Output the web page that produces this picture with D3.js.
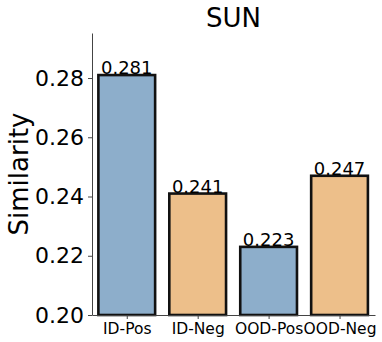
<!DOCTYPE html>
<html>
<head>
<meta charset="utf-8">
<script src="https://cdn.jsdelivr.net/npm/d3@7"></script>
<style>
  body { margin: 0; background: #fff; }
  text { font-family: "DejaVu Sans", sans-serif; fill: #000; }
</style>
</head>
<body>
<div id="chart"></div>
<script>
// Data
var categories = ["ID-Pos", "ID-Neg", "OOD-Pos", "OOD-Neg"];
var values = [0.281, 0.241, 0.223, 0.247];
var colors = ["#8daecb", "#edbf8a", "#8daecb", "#edbf8a"];
var yTicks = [0.20, 0.22, 0.24, 0.26, 0.28];

var W = 382, H = 342;
var margin = {left: 92, right: 7, top: 33, bottom: 27};

var svg = d3.select("#chart")
	.append("svg")
		.attr("width", W)
		.attr("height", H);

// Scales
var x = d3.scaleLinear()
	.domain([-0.49, 3.5])
	.range([margin.left, W - margin.right]);
var y = d3.scaleLinear()
	.domain([0.20, 0.2952])
	.range([H - margin.bottom, margin.top]);

var barW = 0.8 * (x(1) - x(0));

// Bars
svg.selectAll(".bar")
	.data(values)
	.enter()
	.append("rect")
	.attr("class", "bar")
	.attr("x", function(d, i){ return x(i) - barW / 2; })
	.attr("y", function(d){ return y(d); })
	.attr("width", barW)
	.attr("height", function(d){ return y(0.20) - y(d); })
	.attr("fill", function(d, i){ return colors[i]; })
	.attr("stroke", "#111")
	.attr("stroke-width", 2.6);

// Value labels
svg.selectAll(".val")
	.data(values)
	.enter()
	.append("text")
	.attr("class", "val")
	.attr("x", function(d, i){ return x(i); })
	.attr("y", function(d){ return y(d) - 1; })
	.attr("text-anchor", "middle")
	.style("font-size", "18px")
	.text(function(d){ return d.toFixed(3); });

// Axes
var yAxis = d3.axisLeft(y)
	.tickValues(yTicks)
	.tickFormat(d3.format(".2f"))
	.tickSizeInner(4)
	.tickSizeOuter(0)
	.tickPadding(4);

var gY = svg.append("g")
	.attr("transform", "translate(" + margin.left + ",0)")
	.call(yAxis);
gY.selectAll("text").style("font-size", "22px");

var xAxis = d3.axisBottom(x)
	.tickValues(d3.range(categories.length))
	.tickFormat(function(i){ return categories[i]; })
	.tickSizeInner(4)
	.tickSizeOuter(0)
	.tickPadding(4);

var gX = svg.append("g")
	.attr("transform", "translate(0," + (H - margin.bottom) + ")")
	.call(xAxis);
gX.selectAll("text").style("font-size", "15.5px");

svg.selectAll(".domain, .tick line").attr("stroke", "#444");

// Title and label
svg.append("text")
	.attr("x", (margin.left + W - margin.right) / 2)
	.attr("y", 27)
	.attr("text-anchor", "middle")
	.style("font-size", "26px")
	.text("SUN");

svg.append("text")
	.attr("transform", "translate(28," + ((margin.top + H - margin.bottom) / 2) + ") rotate(-90)")
	.attr("text-anchor", "middle")
	.style("font-size", "26px")
	.text("Similarity");
</script>
</body>
</html>
